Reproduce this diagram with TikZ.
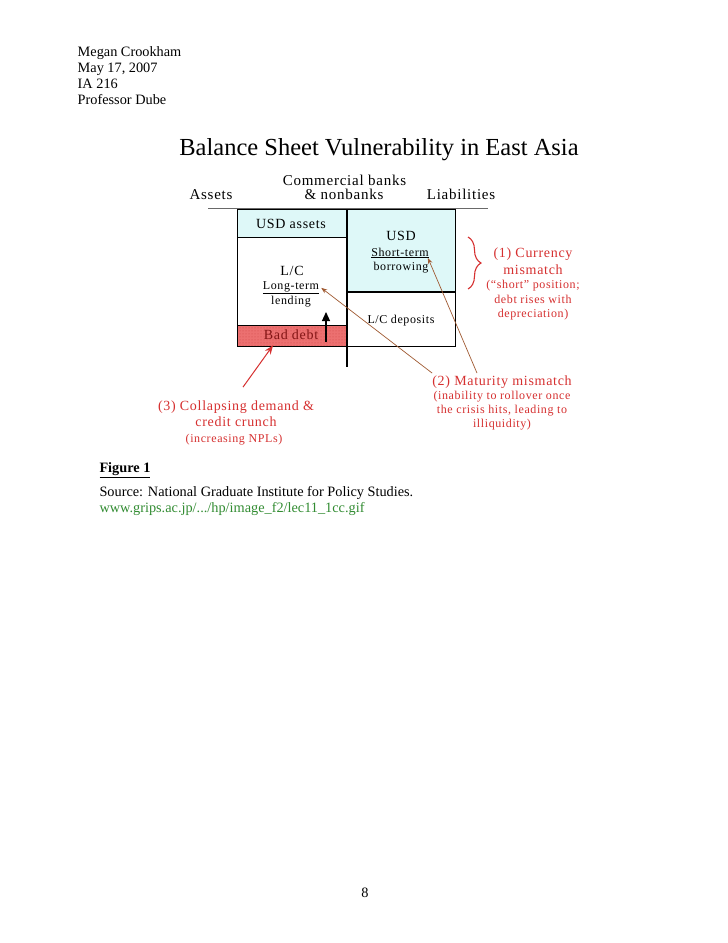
\documentclass[tikz,border=0pt]{standalone}
\usepackage{fontspec}
\setmainfont{Liberation Serif}
\newfontfamily\dg[LetterSpace=5]{Liberation Serif}
\usetikzlibrary{arrows.meta,decorations.pathreplacing,patterns}
\definecolor{cyanbox}{RGB}{222,248,248}
\definecolor{annred}{RGB}{214,48,48}
\definecolor{arrbrown}{RGB}{160,90,50}
\definecolor{baddebt}{RGB}{236,112,112}
\definecolor{baddebttext}{RGB}{130,20,20}
\definecolor{linkgreen}{RGB}{50,140,50}
\definecolor{rulegray}{RGB}{105,105,105}
\tikzset{
  pagetext/.style={anchor=base west,inner sep=0pt,font=\fontsize{14.3}{16}\selectfont},
  hdr/.style={anchor=base,inner sep=0pt,font=\dg\fontsize{15}{17}\selectfont},
  boxtext/.style={anchor=base,inner sep=0pt,font=\dg\fontsize{14}{16}\selectfont},
  smalltext/.style={anchor=base,inner sep=0pt,font=\dg\fontsize{12}{14}\selectfont},
  redbig/.style={anchor=base,inner sep=0pt,text=annred,font=\dg\fontsize{14}{16}\selectfont},
  redsmall/.style={anchor=base,inner sep=0pt,text=annred,font=\dg\fontsize{12}{14}\selectfont},
  cell/.style={draw=black,line width=0.9pt},
  brownarrow/.style={draw=arrbrown,line width=0.7pt,-{Stealth[length=6pt,width=4.5pt]}},
}
\begin{document}
\begin{tikzpicture}[x=1pt,y=-1pt]
\useasboundingbox[fill=white] (0,0) rectangle (728,943);

% page header
\node[pagetext] (h1) at (77.5,56) {Megan Crookham};
\node[pagetext] (h2) at (77.5,72.5) {May 17, 2007};
\node[pagetext] (h3) at (77.5,88.5) {IA 216};
\node[pagetext] (h4) at (77.5,104.5) {Professor Dube};

% title
\node[anchor=base,inner sep=0pt,font=\fontsize{24.5}{27}\selectfont] (title) at (379,155) {Balance Sheet Vulnerability in East Asia};

% column headers
\node[hdr] (assets) at (211,199) {Assets};
\node[hdr] (cb1) at (344.5,185.5) {Commercial banks};
\node[hdr] (cb2) at (344,199) {\& nonbanks};
\node[hdr] (liab) at (461,199) {Liabilities};

% boxes
\draw[cell,fill=cyanbox] (237,209) rectangle (347,237);
\draw[cell,fill=white] (237,237) rectangle (347,325);
\draw[cell,fill=baddebt] (237,325) rectangle (347,346);
\fill[pattern=dots,pattern color=red!60!black,opacity=0.35] (237.5,325.5) rectangle (346.5,345.5);
\draw[cell,fill=cyanbox] (347,209) rectangle (455,292);
\draw[cell,fill=white] (347,292) rectangle (455,346);
\draw[line width=2pt] (347,292) -- (455,292);
\draw[line width=1.6pt] (347,208) -- (347,367);
\draw[draw=rulegray,line width=1.8pt] (208,208.5) -- (488,208.5);

% box labels
\node[boxtext] (usda) at (291,228) {USD assets};
\node[boxtext] (lc) at (292,275) {L/C};
\node[smalltext] (lt) at (291,289.5) {\underline{Long-term}};
\node[smalltext] (lend) at (291,304) {lending};
\node[boxtext,text=baddebttext] (bad) at (291,339) {Bad debt};
\node[boxtext] (usd) at (401,240) {USD};
\node[smalltext] (st) at (400,256) {\underline{Short-term}};
\node[smalltext] (borr) at (401,270) {borrowing};
\node[smalltext] (lcd) at (401,323) {L/C deposits};

% black arrow in L/C box
\coordinate (ua) at (326,342);
\coordinate (ub) at (326,312);
\draw[line width=1.2pt,-{Triangle[length=9pt,width=8pt]}] (ua) -- (ub);

% (1) currency mismatch
\coordinate (br1) at (468,237);
\coordinate (br2) at (468,289);
\draw[annred,line width=1.1pt,decorate,decoration={brace,amplitude=13pt}] (br1) -- (br2);
\node[redbig] (c1) at (533,257) {(1) Currency};
\node[redbig] (c2) at (533,274) {mismatch};
\node[redsmall] (c3) at (533,288) {(\textquotedblleft short\textquotedblright\ position;};
\node[redsmall] (c4) at (533,303) {debt rises with};
\node[redsmall] (c5) at (533,317) {depreciation)};

% (2) maturity mismatch
\node[redbig] (m1) at (502,385) {(2) Maturity mismatch};
\node[redsmall] (m2) at (502,399) {(inability to rollover once};
\node[redsmall] (m3) at (502,413) {the crisis hits, leading to};
\node[redsmall] (m4) at (502,427) {illiquidity)};

% (3) collapsing demand
\node[redbig] (d1) at (236,410) {(3) Collapsing demand \&};
\node[redbig] (d2) at (236,426) {credit crunch};
\node[redsmall] (d3) at (234,442) {(increasing NPLs)};

% connectors
\draw[brownarrow] ([shift={(0,-2)}]m1.north west) -- ([shift={(2,0)}]lt.east);
\draw[brownarrow] ([shift={(-25,-2)}]m1.north) -- ([shift={(-1,5)}]st.east);
\draw[draw=annred,line width=1pt,-{Stealth[length=9pt,width=7pt]}] ([shift={(7,-13)}]d1.north) -- ([shift={(-18,6)}]bad.south);

% caption and source
\node[pagetext,font=\bfseries\fontsize{14.3}{16}\selectfont] (fig) at (99.3,472.7) {\underline{Figure 1}};
\node[pagetext] (src) at (99.3,496.7) {Source: National Graduate Institute for Policy Studies.};
\node[pagetext,text=linkgreen] (url) at (99.3,512.5) {www.grips.ac.jp/.../hp/image\_f2/lec11\_1cc.gif};

% page number
\node[pagetext,anchor=base] (pg) at (365,897) {8};
\end{tikzpicture}
\end{document}
